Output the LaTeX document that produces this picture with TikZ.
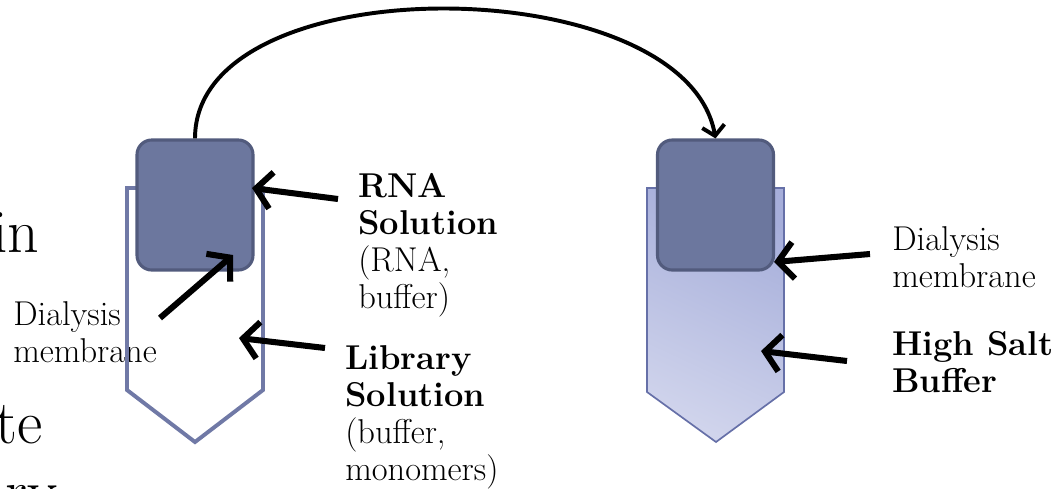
\documentclass[tikz,border=0pt]{standalone}
\usetikzlibrary{arrows.meta}
\definecolor{kappenfarbe}{RGB}{108,119,158}
\definecolor{kappenrand}{RGB}{82,91,125}
\definecolor{rohrfarbe}{RGB}{112,121,166}
\definecolor{salzoben}{RGB}{166,174,218}
\definecolor{salzunten}{RGB}{208,212,236}
\definecolor{salzrand}{RGB}{102,112,168}
\begin{document}
\begin{tikzpicture}[x=0.025cm,y=-0.025cm]
\tikzset{kappe/.style={rectangle,rounded corners=10.5pt,fill=kappenfarbe,draw=kappenrand,line width=2.2pt,minimum width=2.9cm,minimum height=3.25cm,inner sep=0}}
\tikzset{pfeil/.style={line width=4.3pt,-{Straight Barb[length=11pt,width=26pt]}}}
\tikzset{beschriftung/.style={align=left,inner sep=0,anchor=base west,font=\fontsize{24.5}{26.3}\selectfont}}
\tikzset{gross/.style={inner sep=0,font=\fontsize{44}{52}\selectfont}}
\clip (0,0) rectangle (1063,488);
% Textreste am linken Rand
\node [gross,anchor=base west] (in) at (-8,252) {in};
\node [gross,anchor=base east] (te) at (43,443) {te};
\node [gross,anchor=base west] (ry) at (5,512) {ry};
% Beschriftungen (Anker: Grundlinie der letzten Zeile)
\node [beschriftung] (membranL) at (13,362) {Dialysis\\membrane};
\node [beschriftung] (rna) at (358,308) {\textbf{RNA}\\\textbf{Solution}\\(RNA,\\buffer)};
\node [beschriftung] (bibliothek) at (345,480) {\textbf{Library}\\\textbf{Solution}\\(buffer,\\monomers)};
\node [beschriftung] (membranR) at (892,287) {Dialysis\\membrane};
\node [beschriftung] (salz) at (892,392) {\textbf{High Salt}\\\textbf{Buffer}};
% Roehrchen
\draw[rohrfarbe,line width=2.8pt] (127,188) -- (127,390) -- (195,442) -- (263,390) -- (263,188) -- cycle;
\path[draw=salzrand,line width=1.2pt,top color=salzoben,bottom color=salzunten,shading angle=-25] (647,188) -- (647,392) -- (716,442) -- (784,392) -- (784,188) -- cycle;
\node [kappe] (kappeL) at (195,205) {};
\node [kappe] (kappeR) at (715.5,205) {};
% Pfeile
\coordinate (rnaA) at (338,199);
\coordinate (rnaB) at (252,188);
\coordinate (memA) at (160,318);
\coordinate (memB) at (233,255);
\coordinate (bibA) at (325,348);
\coordinate (bibB) at (239,338);
\coordinate (memC) at (870,254);
\coordinate (memD) at (774,262);
\coordinate (salzA) at (847,361);
\coordinate (salzB) at (761,351);
\draw[pfeil] (rnaA) to (rnaB);
\draw[pfeil] (memA) to (memB);
\draw[pfeil] (bibA) to (bibB);
\draw[pfeil] (memC) to (memD);
\draw[pfeil] (salzA) to (salzB);
\draw[line width=2.8pt,-{Straight Barb[length=7pt,width=16pt]}] (kappeL.north) .. controls +(0,-175) and +(-30,-170) .. (kappeR.north);
\end{tikzpicture}
\end{document}
